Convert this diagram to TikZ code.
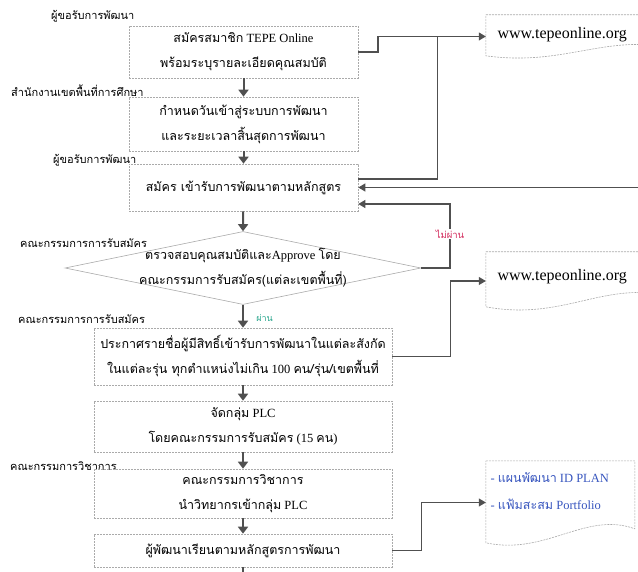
\documentclass[tikz,border=0pt]{standalone}
\usepackage{fontspec}
\setmainfont{Liberation Serif}
\newfontfamily\thaifont[Script=Thai]{Loma}
\usetikzlibrary{arrows.meta,positioning,shapes.geometric}
\definecolor{flow_gray}{RGB}{80,80,80}
\definecolor{box_gray}{RGB}{170,170,170}
\definecolor{fail_red}{RGB}{210,40,90}
\definecolor{pass_green}{RGB}{40,165,140}
\definecolor{doc_blue}{RGB}{55,85,190}
\begin{document}
\begin{tikzpicture}[x=1pt, y=-1pt,
  stepbox/.style={draw=box_gray, dash pattern=on 2pt off 1pt, line width=0.6pt,
    minimum width=229pt, inner sep=0pt, align=center,
    font=\fontsize{12.5}{25}\selectfont},
  widebox/.style={stepbox, minimum width=298pt},
  rolelabel/.style={anchor=west, inner sep=0pt, font=\fontsize{11}{12}\selectfont\thaifont},
  docshape/.style={draw=box_gray, line width=0.6pt, dash pattern=on 2pt off 1pt},
  downarrow/.style={draw=flow_gray, line width=2pt, -{Triangle[width=10pt,length=7pt]}},
  flowline/.style={draw=flow_gray, line width=1.2pt},
  flowarrow/.style={flowline, -{Triangle[width=8pt,length=7pt]}}]
\useasboundingbox (0,0) rectangle (638,572);
% Role labels
\node[rolelabel] (role_applicant) at (51,16) {ผู้ขอรับการพัฒนา};
\node[rolelabel] (role_office) at (11,91) {สำนักงานเขตพื้นที่การศึกษา};
\node[rolelabel] (role_applicant2) at (53,160) {ผู้ขอรับการพัฒนา};
\node[rolelabel] (role_board) at (20,243) {คณะกรรมการการรับสมัคร};
\node[rolelabel] (role_board2) at (18,319) {คณะกรรมการการรับสมัคร};
\node[rolelabel] (role_academic) at (10,466) {คณะกรรมการวิชาการ};
% Main steps
\node[stepbox, minimum height=52pt] (b_member) at (243.5,52)
  {{\thaifont สมัครสมาชิก} TEPE Online\\{\thaifont พร้อมระบุรายละเอียดคุณสมบัติ}};
\node[stepbox, minimum height=54pt] (b_dates) at (243.5,124)
  {{\thaifont กำหนดวันเข้าสู่ระบบการพัฒนา}\\{\thaifont และระยะเวลาสิ้นสุดการพัฒนา}};
\node[stepbox, minimum height=47pt] (b_apply) at (243.5,187.5)
  {\thaifont สมัคร เข้ารับการพัฒนาตามหลักสูตร};
% Decision
\node[diamond, draw=box_gray, line width=0.6pt, minimum width=356pt,
  minimum height=73pt, inner sep=0pt] (check) at (243,268) {};
\node[align=center, font=\fontsize{12.5}{25}\selectfont] (check_text) at (check.center)
  {{\thaifont ตรวจสอบคุณสมบัติและ}Approve {\thaifont โดย}\\{\thaifont คณะกรรมการรับสมัคร(แต่ละเขตพื้นที่)}};
\node[widebox, minimum height=57pt] (b_announce) at (243,356.5)
  {{\thaifont ประกาศรายชื่อผู้มีสิทธิ์เข้ารับการพัฒนาในแต่ละสังกัด}\\{\thaifont ในแต่ละรุ่น ทุกตำแหน่งไม่เกิน} 100 {\thaifont คน/รุ่น/เขตพื้นที่}};
\node[widebox, minimum height=51pt] (b_group) at (243,426.5)
  {{\thaifont จัดกลุ่ม} PLC\\{\thaifont โดยคณะกรรมการรับสมัคร} (15 {\thaifont คน})};
\node[widebox, minimum height=49pt] (b_tutor) at (243,493.5)
  {{\thaifont คณะกรรมการวิชาการ}\\{\thaifont นำวิทยากรเข้ากลุ่ม} PLC};
\node[widebox, minimum height=33pt] (b_learn) at (243,550.5)
  {\thaifont ผู้พัฒนาเรียนตามหลักสูตรการพัฒนา};
% Documents
\node[minimum width=190pt, minimum height=43pt, inner sep=0pt] (doc_site1) at (581,36.5) {};
\node[font=\fontsize{16}{18}\selectfont, anchor=west] (site1_text) at (494,35) {www.tepeonline.org};
\draw[docshape, shift={(doc_site1.north west)}]
  (0,0) -- (190,0) -- (190,34) .. controls (120,18) and (80,52) .. (0,41) -- cycle;
\node[minimum width=190pt, minimum height=58pt, inner sep=0pt] (doc_site2) at (581,281) {};
\node[font=\fontsize{16}{18}\selectfont, anchor=west] (site2_text) at (494,277) {www.tepeonline.org};
\draw[docshape, shift={(doc_site2.north west)}]
  (0,0) -- (190,0) -- (190,46) .. controls (120,26) and (80,70) .. (0,55) -- cycle;
\node[minimum width=149pt, minimum height=83pt, inner sep=0pt] (doc_plan) at (560.5,502.5) {};
\draw[docshape, shift={(doc_plan.north west)}]
  (0,0) -- (149,0) -- (149,68) .. controls (100,50) and (60,95) .. (0,82) -- cycle;
\node[anchor=west, align=left, text=doc_blue, font=\fontsize{12.5}{27}\selectfont] (plan_text) at (487,491)
  {- {\thaifont แผนพัฒนา} ID PLAN\\- {\thaifont แฟ้มสะสม} Portfolio};
% Flow down the middle
\draw[downarrow] (b_member) -- (b_dates);
\draw[downarrow] (b_dates) -- (b_apply);
\draw[downarrow] (b_apply) -- (check.north);
\draw[downarrow] (check.south) -- node[right=9pt, yshift=-2pt, text=pass_green, font=\fontsize{9}{10}\selectfont\thaifont] (pass_label) {ผ่าน} (b_announce);
\draw[downarrow] (b_announce) -- (b_group);
\draw[downarrow] (b_group) -- (b_tutor);
\draw[downarrow] (b_tutor) -- (b_learn);
\coordinate (learn_out) at (243,578);
\draw[flowline, line width=1.5pt] (b_learn) -- (learn_out);
% Links to the right
\coordinate (site_jog) at (378,36.5);
\coordinate (site_split) at (437.5,36.5);
\coordinate (edge_in) at (645,187.5);
\draw[flowarrow] (b_member.east) -| (site_jog) -- (doc_site1.west);
\draw[flowline] (site_split) |- ([yshift=8.5pt]b_apply.east);
\draw[flowarrow] (edge_in) -- (b_apply.east);
\node[inner sep=1pt, text=fail_red, font=\fontsize{9.5}{10}\selectfont\thaifont] (fail_label) at (450,234) {ไม่ผ่าน};
\draw[flowline] (check.east) -| (fail_label.south);
\draw[flowarrow] (fail_label.north) |- ([yshift=-16.5pt]b_apply.east);
\draw[flowarrow] (b_announce.east) -- ++(58,0) |- (doc_site2.west);
\draw[flowarrow] (b_learn.east) -- ++(29,0) |- (doc_plan.west);
\end{tikzpicture}
\end{document}
